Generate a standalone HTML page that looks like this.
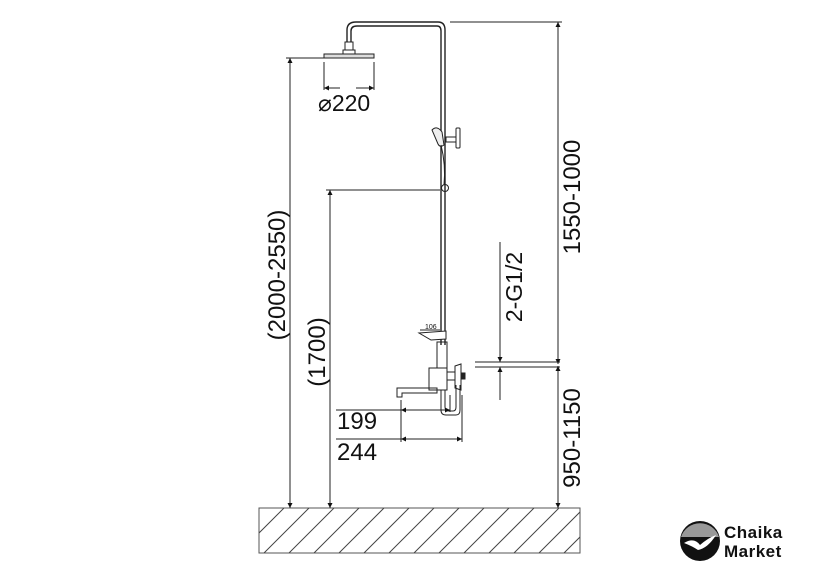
<!DOCTYPE html>
<html><head><style>
html,body{margin:0;padding:0;background:#fff;}
svg{display:block}
text{font-family:"Liberation Sans",sans-serif;fill:#111}
</style></head><body>
<svg width="840" height="576" viewBox="0 0 840 576" xmlns="http://www.w3.org/2000/svg">
<defs>
<marker id="a" viewBox="0 0 10 10" refX="10" refY="5" markerWidth="5" markerHeight="12" orient="auto-start-reverse" markerUnits="userSpaceOnUse"><path d="M0,0 L10,5 L0,10 z" fill="#111"/></marker>
<clipPath id="fl"><rect x="259" y="508" width="321" height="45"/></clipPath>
</defs>
<g stroke="#222" stroke-width="1" fill="none">
<path d="M347,42 L347,30 Q347,22 356,22 L438,22 Q445,22 445,30 L445,345" stroke-width="1.4"/>
<path d="M351,42 L351,31 Q351,26 357,26 L437,26 Q441,26 441,31 L441,345" stroke-width="1.4"/>
<rect x="345" y="42" width="8" height="8"/>
<rect x="343" y="50" width="12" height="4"/>
<path d="M324,54 L374,54 L374,58 L324,58 z" fill="#ddd"/>
<path d="M432,130 Q437,125 442,132 L444,145 Q440,148 438,144 Z" fill="#eee"/>
<rect x="446" y="137" width="10" height="5"/>
<rect x="456" y="128" width="4" height="20" rx="1"/>
<path d="M441,145 Q446,165 444,185"/>
<circle cx="445" cy="188" r="3.5"/>
<path d="M419,333 L446,331 L446,339 L431,340 Z" fill="#fff"/>
<line x1="420" y1="330" x2="440" y2="330"/>
<rect x="437" y="342" width="10" height="26"/>
<rect x="429" y="368" width="18" height="22"/>
<rect x="447" y="372" width="8" height="8"/>
<path d="M455,366 L461,364 L461,390 L455,388 Z"/>
<rect x="461" y="373" width="4" height="6" fill="#222"/>
<path d="M397,388 L437,388 L437,393 L402,393 L402,397 L397,397 Z"/>
<path d="M441,390 L441,410 Q441,415 446,415 L456,415 Q460,415 460,410 L460,385"/>
<path d="M445,390 L445,407 Q445,411 449,411 L453,411 Q456,411 456,407 L456,385"/>
<rect x="259" y="508" width="321" height="45" stroke="#555"/>
<g clip-path="url(#fl)" stroke="#444">
<path d="M214,553 l45,-45 M239,553 l45,-45 M264,553 l45,-45 M289,553 l45,-45 M314,553 l45,-45 M339,553 l45,-45 M364,553 l45,-45 M389,553 l45,-45 M414,553 l45,-45 M439,553 l45,-45 M464,553 l45,-45 M489,553 l45,-45 M514,553 l45,-45 M539,553 l45,-45 M564,553 l45,-45"/>
</g>
<line x1="286" y1="58" x2="324" y2="58"/>
<line x1="290" y1="58" x2="290" y2="508" marker-start="url(#a)" marker-end="url(#a)"/>
<line x1="326" y1="190" x2="440" y2="190"/>
<line x1="330" y1="190" x2="330" y2="508" marker-start="url(#a)" marker-end="url(#a)"/>
<line x1="450" y1="22" x2="562" y2="22"/>
<line x1="558" y1="22" x2="558" y2="364" marker-start="url(#a)" marker-end="url(#a)"/>
<line x1="558" y1="366" x2="558" y2="508" marker-start="url(#a)" marker-end="url(#a)"/>
<line x1="324" y1="62" x2="324" y2="90"/>
<line x1="374" y1="62" x2="374" y2="90"/>
<line x1="324" y1="88" x2="340" y2="88" marker-start="url(#a)"/>
<line x1="356" y1="88" x2="374" y2="88" marker-end="url(#a)"/>
<line x1="475" y1="362" x2="560" y2="362"/>
<line x1="475" y1="367" x2="560" y2="367"/>
<line x1="500" y1="242" x2="500" y2="362" marker-end="url(#a)"/>
<line x1="500" y1="367" x2="500" y2="400" marker-start="url(#a)"/>
<line x1="401" y1="400" x2="401" y2="442"/>
<line x1="450" y1="395" x2="450" y2="412"/>
<line x1="462" y1="395" x2="462" y2="442"/>
<line x1="336" y1="410" x2="450" y2="410"/>
<line x1="401" y1="410" x2="420" y2="410" marker-start="url(#a)"/>
<line x1="432" y1="410" x2="450" y2="410" marker-end="url(#a)"/>
<line x1="336" y1="439" x2="462" y2="439"/>
<line x1="401" y1="439" x2="420" y2="439" marker-start="url(#a)"/>
<line x1="440" y1="439" x2="462" y2="439" marker-end="url(#a)"/>
</g>
<text x="318" y="111" font-size="23">⌀220</text>
<text x="425" y="329" font-size="7">106</text>
<text x="337" y="429" font-size="24">199</text>
<text x="337" y="460" font-size="24">244</text>
<text transform="translate(285,275) rotate(-90)" font-size="24" text-anchor="middle">(2000-2550)</text>
<text transform="translate(325,352) rotate(-90)" font-size="24" text-anchor="middle">(1700)</text>
<text transform="translate(580,197) rotate(-90)" font-size="24" text-anchor="middle">1550-1000</text>
<text transform="translate(580,438) rotate(-90)" font-size="24" text-anchor="middle">950-1150</text>
<text transform="translate(522,287) rotate(-90)" font-size="23" text-anchor="middle">2-G1/2</text>
<circle cx="700" cy="541" r="20" fill="#111"/>
<path d="M681,537 A20,20 0 0 1 719,537 Z" fill="#999"/>
<path d="M684,543 Q694,537 700,545 Q708,538 716,535 Q708,548 698,550 Q692,546 684,543 Z" fill="#fff"/>
<text x="724" y="538" font-size="17" style="font-weight:bold;letter-spacing:0.5px">Chaika</text>
<text x="724" y="557" font-size="17" style="font-weight:bold;letter-spacing:0.5px">Market</text>
</svg>
</body></html>
